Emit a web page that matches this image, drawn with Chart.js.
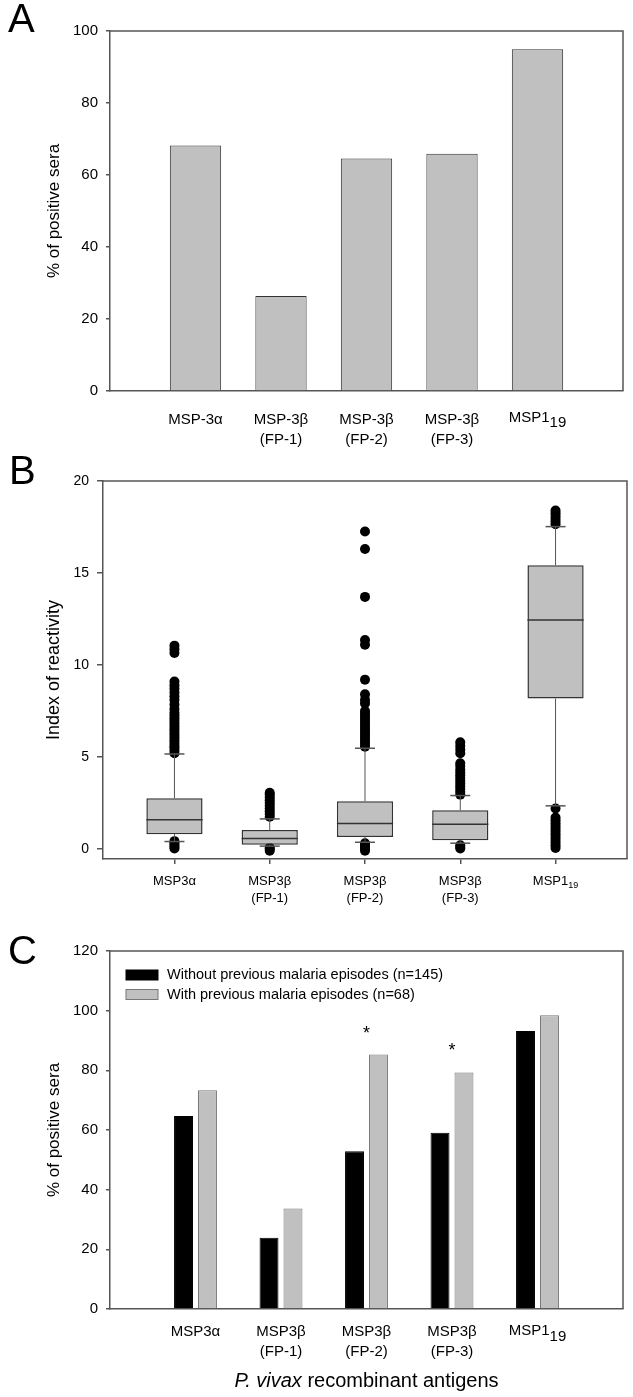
<!DOCTYPE html>
<html lang="en">
<head>
<meta charset="UTF-8">
<title>P. vivax MSP antigens</title>
<script src="https://cdn.jsdelivr.net/npm/chart.js"></script>
<style>
  body { margin: 0; width: 633px; height: 1397px; position: relative; background: #fff; overflow: hidden;
         font-family: "Liberation Sans", Arial, sans-serif; }
  .panel { position: absolute; left: 0; width: 633px; }
  .panel canvas { display: block; }
  .tag { position: absolute; font-size: 40px; line-height: 40px; color: #000; }
</style>
</head>
<body>
<div class="panel" style="top:0;height:460px"><canvas id="chartA" width="633" height="460"></canvas></div>
<div class="panel" style="top:460px;height:452px"><canvas id="chartB" width="633" height="452"></canvas></div>
<div class="panel" style="top:900px;height:497px"><canvas id="chartC" width="633" height="497"></canvas></div>
<div class="tag" style="left:8px;top:-2px">A</div>
<div class="tag" style="left:9px;top:450px">B</div>
<div class="tag" style="left:8px;top:930px">C</div>

<script>
// ---- data ----
// A: % of positive sera per antigen  ('_' marks a subscript)
const antigensA = [['MSP-3α'], ['MSP-3β', '(FP-1)'], ['MSP-3β', '(FP-2)'], ['MSP-3β', '(FP-3)'], ['MSP1_19']];
const positiveA = [68.2, 26.4, 64.6, 65.9, 94.9];
const yTicksA = [0, 20, 40, 60, 80, 100];

// B: index of reactivity (box plots)
const antigensB = [['MSP3α'], ['MSP3β', '(FP-1)'], ['MSP3β', '(FP-2)'], ['MSP3β', '(FP-3)'], ['MSP1_19']];
const q1B   = [0.80, 0.22, 0.65, 0.47, 8.17];
const medB  = [1.59, 0.56, 1.38, 1.34, 12.45];
const q3B   = [2.75, 1.02, 2.59, 2.10, 15.42];
const lowB  = [0.40, 0.15, 0.36, 0.31, 2.34];
const highB = [5.16, 1.63, 5.47, 2.90, 17.52];
const outMSP3a = [0.02, 0.12, 0.22, 0.32, 0.42,
  5.2, 5.35, 5.5, 5.6, 5.75, 5.9, 6.05, 6.2, 6.35, 6.5, 6.65, 6.8, 6.95, 7.1, 7.25, 7.4, 7.6,
  7.85, 8.1, 8.3, 8.5, 8.7, 8.9, 9.1, 10.65, 10.85, 11.05];
const outFP1 = [-0.1, 0.0, 0.06, 1.75, 1.9, 2.05, 2.2, 2.35, 2.5, 2.65, 2.8, 2.95, 3.05];
const outFP2 = [-0.1, 0.02, 0.1, 0.2, 0.3,
  5.55, 5.7, 5.85, 6.0, 6.15, 6.3, 6.45, 6.6, 6.75, 6.9, 7.05, 7.2, 7.35, 7.5,
  7.9, 8.1, 8.4, 9.2, 11.1, 11.35, 13.7, 16.3, 17.25];
const outFP3 = [0.02, 0.1, 0.2, 2.95, 3.1, 3.25, 3.4, 3.55, 3.7, 3.85, 4.0, 4.15, 4.3, 4.5, 4.65,
  5.2, 5.4, 5.6, 5.8];
const outMSP1 = [0.05, 0.2, 0.35, 0.5, 0.65, 0.8, 0.95, 1.1, 1.25, 1.4, 1.55, 1.7, 2.2,
  17.65, 17.8, 17.95, 18.1, 18.25, 18.4];
const outliersB = [outMSP3a, outFP1, outFP2, outFP3, outMSP1];
const yTicksB = [0, 5, 10, 15, 20];

// C: % of positive sera by malaria history
const antigensC = [['MSP3α'], ['MSP3β', '(FP-1)'], ['MSP3β', '(FP-2)'], ['MSP3β', '(FP-3)'], ['MSP1_19']];
const withoutC = [64.7, 23.9, 52.9, 59.1, 93.2];
const withC    = [73.3, 33.7, 85.3, 79.3, 98.5];
const sigC     = ['', '', '*', '*', ''];
const seriesC  = ['Without previous malaria episodes (n=145)', 'With previous malaria episodes (n=68)'];
const yTicksC  = [0, 20, 40, 60, 80, 100, 120];
const xTitleC  = ['P. vivax', ' recombinant antigens'];

// ---- shared look ----
const FAMILY = '"Liberation Sans", Arial, sans-serif';
const LINE = '#555';
Chart.defaults.font.family = FAMILY;
Chart.defaults.color = '#000';
Chart.defaults.animation = false;
Chart.defaults.plugins.legend.display = false;
Chart.defaults.plugins.tooltip.enabled = false;

// top + right edge of the plot box
const frame = {
  id: 'frame',
  afterDraw(chart) {
    const a = chart.chartArea, ctx = chart.ctx;
    ctx.save();
    ctx.strokeStyle = LINE;
    ctx.lineWidth = 1.5;
    ctx.beginPath();
    ctx.moveTo(a.left, a.top);
    ctx.lineTo(a.right, a.top);
    ctx.lineTo(a.right, a.bottom);
    ctx.stroke();
    ctx.restore();
  }
};

// tick labels with a subscript (MSP1_19) are drawn here, the rest by the axis
const subTicks = {
  id: 'subTicks',
  afterDraw(chart, args, o) {
    const xs = chart.scales.x, ctx = chart.ctx, a = chart.chartArea;
    ctx.save();
    ctx.fillStyle = '#000';
    ctx.textBaseline = 'middle';
    ctx.textAlign = 'left';
    o.labels.forEach((lab, i) => {
      const s = String(lab);
      if (s.indexOf('_') < 0) return;
      const [base, sub] = s.split('_');
      ctx.font = o.size + 'px ' + FAMILY;
      const w1 = ctx.measureText(base).width;
      ctx.font = o.subSize + 'px ' + FAMILY;
      const w2 = ctx.measureText(sub).width;
      const x0 = xs.getPixelForValue(i + 1) - (w1 + w2) / 2;
      const y0 = a.bottom + o.dy;
      ctx.font = o.size + 'px ' + FAMILY;
      ctx.fillText(base, x0, y0);
      ctx.font = o.subSize + 'px ' + FAMILY;
      ctx.fillText(sub, x0 + w1, y0 + o.subDy);
    });
    ctx.restore();
  }
};

function setTicks(list) {
  return s => { s.ticks = list.map(v => ({ value: v })); };
}

function yAxis(max, min, ticks, title, width, tickLen, tickSize, titleSize) {
  return {
    type: 'linear', min: min, max: max,
    afterBuildTicks: setTicks(ticks),
    afterFit: s => { s.width = width; },
    grid: { display: true, drawOnChartArea: false, drawTicks: true, tickLength: tickLen, color: LINE, lineWidth: 1.5 },
    border: { display: true, color: LINE, width: 1.5 },
    ticks: { font: { size: tickSize }, padding: 8, color: '#000' },
    title: { display: true, text: title, font: { size: titleSize, lineHeight: 1.2 },
             padding: { top: 54 - titleSize * 0.6, bottom: 0 }, color: '#000' }
  };
}

function xAxis(min, max, labels, height, pad, fontSize, tickLen) {
  return {
    type: 'linear', min: min, max: max, offset: false,
    afterBuildTicks: setTicks(labels.map((_, i) => i + 1)),
    afterFit: s => { s.height = height; },
    grid: { display: tickLen > 0, offset: false, drawOnChartArea: false, drawTicks: true, tickLength: tickLen, color: LINE, lineWidth: 1.5 },
    border: { display: true, color: LINE, width: 1.5 },
    ticks: {
      autoSkip: false, maxRotation: 0, minRotation: 0, padding: pad, color: '#000',
      font: { size: fontSize, lineHeight: 1.3 },
      callback: v => (String(labels[v - 1]).indexOf('_') >= 0 ? '' : labels[v - 1])
    }
  };
}

// ---- A ----
new Chart(document.getElementById('chartA'), {
  type: 'bar',
  data: {
    datasets: [{
      data: positiveA.map((v, i) => ({ x: i + 1, y: v })),
      backgroundColor: '#c0c0c0', borderColor: '#333', borderWidth: 1,
      barPercentage: 0.6, categoryPercentage: 1
    }]
  },
  options: {
    responsive: false,
    layout: { padding: { left: 0, top: 31, right: 10, bottom: 0 } },
    scales: {
      x: xAxis(0, 6, antigensA, 69, 19.5, 15, 0),
      y: yAxis(100, 0, yTicksA, '% of positive sera', 110, 4, 15, 17)
    },
    plugins: { subTicks: { labels: antigensA, size: 15, subSize: 15, dy: 27, subDy: 5 } }
  },
  plugins: [frame, subTicks]
});

// ---- B ----
const boxPlot = {
  id: 'boxPlot',
  afterDatasetsDraw(chart) {
    const y = chart.scales.y, ctx = chart.ctx;
    const boxes = chart.getDatasetMeta(0).data;
    const seg = (x1, y1, x2, y2) => { ctx.beginPath(); ctx.moveTo(x1, y1); ctx.lineTo(x2, y2); ctx.stroke(); };
    ctx.save();
    medB.forEach((m, i) => {
      const cx = boxes[i].x, half = boxes[i].width / 2;
      const yq1 = y.getPixelForValue(q1B[i]), yq3 = y.getPixelForValue(q3B[i]);
      const ylo = y.getPixelForValue(lowB[i]), yhi = y.getPixelForValue(highB[i]);
      ctx.strokeStyle = LINE;
      ctx.lineWidth = 1;
      seg(cx, yq3, cx, yhi);
      seg(cx, yq1, cx, ylo);
      ctx.lineWidth = 1.5;
      seg(cx - 10, yhi, cx + 10, yhi);
      seg(cx - 10, ylo, cx + 10, ylo);
      ctx.strokeStyle = '#333';
      const ym = y.getPixelForValue(m);
      seg(cx - half, ym, cx + half, ym);
    });
    ctx.restore();
  }
};

new Chart(document.getElementById('chartB'), {
  type: 'bar',
  data: {
    datasets: [{
      data: q1B.map((q, i) => ({ x: i + 1, y: [q, q3B[i]] })),
      backgroundColor: '#c0c0c0', borderColor: '#333', borderWidth: 1.5, borderSkipped: false,
      barPercentage: 0.59, categoryPercentage: 1
    }, {
      type: 'scatter',
      data: outliersB.flatMap((arr, i) => arr.map(v => ({ x: i + 1, y: v }))),
      backgroundColor: '#000', borderWidth: 0, pointRadius: 5
    }]
  },
  options: {
    responsive: false,
    layout: { padding: { left: 0, top: 21, right: 6, bottom: 0 } },
    scales: {
      x: xAxis(0.25, 5.75, antigensB, 53, 9, 13, 5),
      y: yAxis(20, -0.55, yTicksB, 'Index of reactivity', 103, 6, 14, 18)
    },
    plugins: { subTicks: { labels: antigensB, size: 13, subSize: 9, dy: 22, subDy: 5 } }
  },
  plugins: [frame, boxPlot, subTicks]
});

// ---- C ----
const boxLegend = {
  id: 'boxLegend',
  afterDraw(chart) {
    const ctx = chart.ctx, a = chart.chartArea;
    ctx.save();
    ctx.font = '14.5px ' + FAMILY;
    ctx.textBaseline = 'middle';
    chart.data.datasets.forEach((ds, i) => {
      const x = a.left + 16, y = a.top + 24 + i * 19.5;
      ctx.fillStyle = ds.backgroundColor;
      ctx.fillRect(x, y - 5, 32, 10);
      ctx.strokeStyle = ds.borderColor;
      ctx.lineWidth = 1;
      ctx.strokeRect(x, y - 5, 32, 10);
      ctx.fillStyle = '#000';
      ctx.fillText(ds.label, x + 41, y);
    });
    ctx.restore();
  }
};

const marksC = {
  id: 'marksC',
  afterDatasetsDraw(chart) {
    const ctx = chart.ctx, xs = chart.scales.x, ys = chart.scales.y;
    ctx.save();
    ctx.font = '18px ' + FAMILY;
    ctx.textAlign = 'center';
    ctx.textBaseline = 'alphabetic';
    ctx.fillStyle = '#000';
    sigC.forEach((s, i) => {
      if (!s) return;
      ctx.fillText(s, xs.getPixelForValue(i + 1), ys.getPixelForValue(withC[i]) - 16);
    });
    // x axis title, genus name in italics
    const a = chart.chartArea;
    ctx.textAlign = 'left';
    ctx.textBaseline = 'middle';
    ctx.font = 'italic 20px ' + FAMILY;
    const w1 = ctx.measureText(xTitleC[0]).width;
    ctx.font = '20px ' + FAMILY;
    const w2 = ctx.measureText(xTitleC[1]).width;
    const x0 = (a.left + a.right) / 2 - (w1 + w2) / 2, ty = 481;
    ctx.font = 'italic 20px ' + FAMILY;
    ctx.fillText(xTitleC[0], x0, ty);
    ctx.font = '20px ' + FAMILY;
    ctx.fillText(xTitleC[1], x0 + w1, ty);
    ctx.restore();
  }
};

new Chart(document.getElementById('chartC'), {
  type: 'bar',
  data: {
    datasets: [{
      label: seriesC[0],
      data: withoutC.map((v, i) => ({ x: i + 1, y: v })),
      backgroundColor: '#000', borderColor: '#000', borderWidth: 1,
      barPercentage: 0.79, categoryPercentage: 0.561
    }, {
      label: seriesC[1],
      data: withC.map((v, i) => ({ x: i + 1, y: v })),
      backgroundColor: '#c0c0c0', borderColor: '#777', borderWidth: 1,
      barPercentage: 0.79, categoryPercentage: 0.561
    }]
  },
  options: {
    responsive: false,
    layout: { padding: { left: 0, top: 51, right: 10, bottom: 0 } },
    scales: {
      x: xAxis(0, 6, antigensC, 88, 13.5, 15, 0),
      y: yAxis(120, 0, yTicksC, '% of positive sera', 110, 4, 15, 17)
    },
    plugins: { subTicks: { labels: antigensC, size: 15, subSize: 15, dy: 22, subDy: 6 } }
  },
  plugins: [frame, boxLegend, marksC, subTicks]
});
</script>
</body>
</html>
